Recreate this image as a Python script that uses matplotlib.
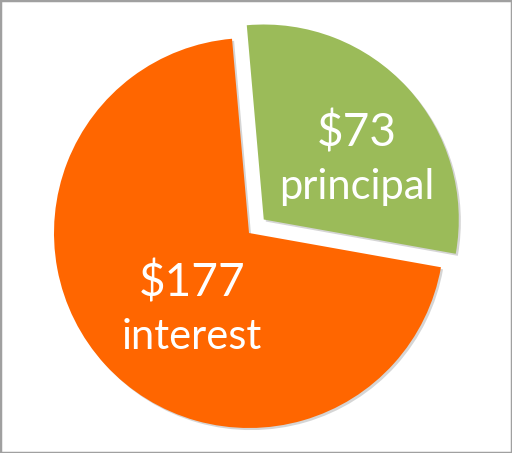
import matplotlib.pyplot as plt
import matplotlib.patheffects as pe
from matplotlib.patches import Rectangle

# data
labels = ["principal", "interest"]
values = [73, 177]
colors = ["#9BBB59", "#FF6600"]
explode = [20, 0]   # pie() offsets centres in data units (pixels here)

W, H = 512, 453
fig = plt.figure(figsize=(W / 100, H / 100), dpi=100)
ax = fig.add_axes([0, 0, 1, 1])
ax.set_xlim(0, W)
ax.set_ylim(0, H)
ax.set_aspect("equal")

wedges, _ = ax.pie(
    values,
    colors=colors,
    explode=explode,
    startangle=95,
    counterclock=False,
    radius=195,
    center=(249, 220),
    frame=True,
)
ax.axis("off")
for w in wedges:
    w.set_path_effects([
        pe.SimplePatchShadow(offset=(1.5, -1.5), shadow_rgbFace="#888888", alpha=0.35),
        pe.Normal(),
    ])

# labels
num = dict(color="white", ha="center", va="center", fontsize=33, family="Lato")
word = dict(num, fontsize=30)
ax.text(357, 453 - 133, "$%d" % values[0], **num)
ax.text(357, 453 - 187, labels[0], **word)
ax.text(192, 453 - 283, "$%d" % values[1], **num)
ax.text(192, 453 - 337, labels[1], **word)

# outer frame
fig.patches.append(Rectangle((0, 0), 1, 1, transform=fig.transFigure, fill=False,
                             edgecolor="#A0A0A0", linewidth=2.5))

fig.savefig("out.png", dpi=100)
